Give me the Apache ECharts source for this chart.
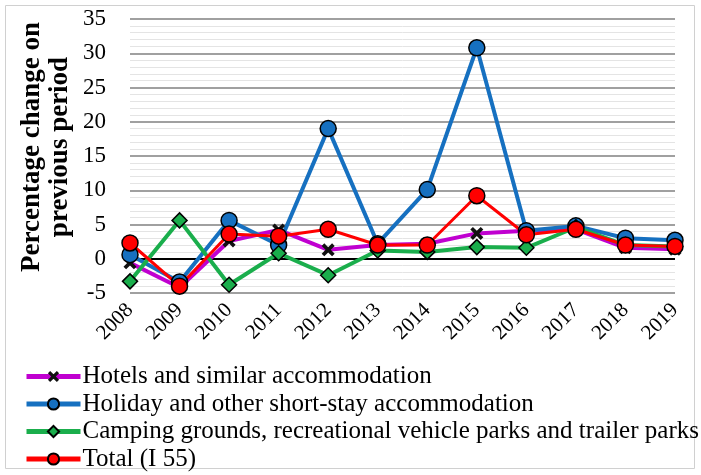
<!DOCTYPE html>
<html>
<head>
<meta charset="utf-8">
<script src="https://cdn.jsdelivr.net/npm/echarts@6/dist/echarts.min.js"></script>
<style>
  html, body { margin: 0; padding: 0; background: #fff; }
  #chart { width: 701px; height: 475px; }
</style>
</head>
<body>
<div id="chart"></div>
<script>
// Years on the category axis
const years = ['2008', '2009', '2010', '2011', '2012', '2013', '2014', '2015', '2016', '2017', '2018', '2019'];

// Percentage change on previous period, by type of accommodation
const hotels   = [-0.6, -4.2, 2.6, 4.2, 1.3, 2.0, 2.2, 3.7, 4.1, 4.3, 1.6, 1.4];
const holiday  = [0.6, -3.4, 5.6, 2.0, 19.0, 2.2, 10.1, 30.8, 4.1, 4.8, 3.0, 2.7];
const camping  = [-3.3, 5.6, -3.8, 0.8, -2.4, 1.2, 1.0, 1.7, 1.6, 4.6, 2.0, 1.8];
const total    = [2.3, -4.0, 3.6, 3.3, 4.3, 2.0, 2.0, 9.2, 3.5, 4.3, 2.0, 1.8];

const seriesNames = [
  'Hotels and similar accommodation',
  'Holiday and other short-stay accommodation',
  'Camping grounds, recreational vehicle parks and trailer parks',
  'Total (I 55)'
];

const serif = 'Liberation Serif, Times New Roman, serif';
const crossPath = 'path://M2,0 L5,3 L8,0 L10,2 L7,5 L10,8 L8,10 L5,7 L2,10 L0,8 L3,5 L0,2 Z';

const chart = echarts.init(document.getElementById('chart'));

function lineSeries(name, data, color, width, symbol, size, fill) {
  return {
    name: name,
    type: 'line',
    data: data,
    symbol: symbol,
    symbolSize: size,
    showSymbol: true,
    lineStyle: { color: color, width: width },
    itemStyle: { color: fill, borderColor: '#000', borderWidth: symbol === crossPath ? 0 : 1.5 },
    emphasis: { disabled: true },
    z: 3
  };
}

const series = [
  lineSeries(seriesNames[0], hotels, '#c000d0', 4, crossPath, 13, '#111'),
  lineSeries(seriesNames[1], holiday, '#1670c0', 4, 'circle', 16, '#1670c0'),
  lineSeries(seriesNames[2], camping, '#1aae4c', 4, 'diamond', 15, '#1aae4c'),
  lineSeries(seriesNames[3], total, '#ff0000', 3, 'circle', 16, '#ff0000')
];
// Zero reference line
series[0].markLine = {
  silent: true,
  symbol: 'none',
  label: { show: false },
  lineStyle: { color: '#000', width: 2, type: 'solid' },
  data: [{ yAxis: 0 }],
  z: 2
};

chart.setOption({
  animation: false,
  backgroundColor: '#fff',
  grid: { left: 130, right: 26, top: 19, bottom: 182, containLabel: false },
  xAxis: {
    type: 'category',
    data: years,
    boundaryGap: false,
    axisLine: { show: false },
    axisTick: { show: false },
    axisLabel: {
      rotate: 45,
      margin: 14,
      fontFamily: serif,
      fontSize: 21,
      color: '#000'
    },
    splitLine: { show: false }
  },
  yAxis: {
    type: 'value',
    min: -5,
    max: 35,
    interval: 5,
    axisLine: { show: false },
    axisTick: { show: false },
    axisLabel: {
      margin: 24,
      fontFamily: serif,
      fontSize: 23,
      color: '#000'
    },
    splitLine: { show: true, lineStyle: { color: '#808080', width: 1.5 } },
    minorTick: { show: false, splitNumber: 5 },
    minorSplitLine: { show: true, lineStyle: { color: '#e4e4e4', width: 1 } }
  },
  legend: {
    orient: 'vertical',
    left: 24,
    top: 364,
    padding: 0,
    itemGap: 2.5,
    itemWidth: 54,
    itemHeight: 14,
    lineStyle: { width: 5 },
    textStyle: { fontFamily: serif, fontSize: 25, lineHeight: 25, color: '#000', padding: [0, 0, 0, -3] },
    data: seriesNames
  },
  graphic: [
    {
      type: 'rect',
      shape: { x: 5.5, y: 5.5, width: 689, height: 463 },
      style: { fill: 'none', stroke: '#d0d0d0', lineWidth: 1 },
      silent: true
    },
    {
      type: 'text',
      x: 46,
      y: 147,
      rotation: Math.PI / 2,
      style: {
        text: 'Percentage change on\nprevious period',
        fontFamily: serif,
        fontWeight: 'bold',
        fontSize: 27,
        lineHeight: 28,
        fill: '#000',
        align: 'center',
        verticalAlign: 'middle'
      },
      silent: true
    }
  ],
  series: series
});
</script>
</body>
</html>
